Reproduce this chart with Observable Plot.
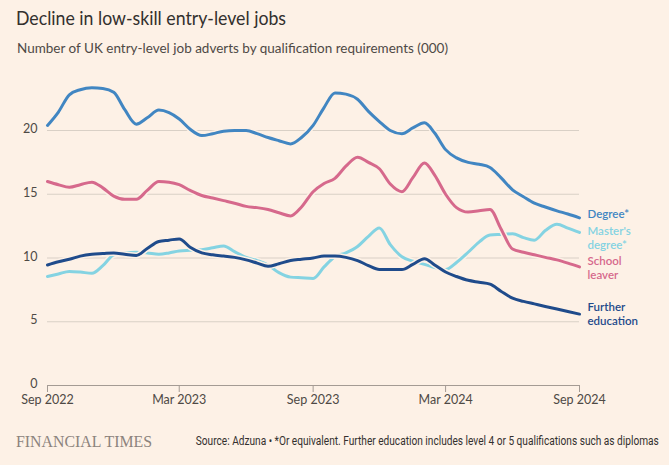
<!DOCTYPE html>
<html>
<head>
<meta charset="utf-8">
<script src="https://cdn.jsdelivr.net/npm/d3@7"></script>
<script src="https://cdn.jsdelivr.net/npm/@observablehq/plot@0.6"></script>
<style>
  html, body { margin: 0; padding: 0; background: #fdf1e6; }
  body { width: 669px; height: 465px; position: relative; overflow: hidden; font-family: Lato, "Noto Sans", sans-serif; }
  .title { position: absolute; left: 16px; top: 9px; font-size: 18.5px; color: #33302e; white-space: nowrap; line-height: 1; transform-origin: left center; }
  .subtitle { position: absolute; left: 17px; top: 42px; font-size: 13.5px; color: #4e4945; white-space: nowrap; line-height: 1; transform-origin: left center; }
  #chart { position: absolute; left: 0; top: 60px; }
  .ft { position: absolute; left: 16px; top: 433px; font-family: "Liberation Serif", "DejaVu Serif", serif; font-size: 17px; color: #8c837d; white-space: nowrap; line-height: 1; transform-origin: left center; }
  .source { position: absolute; right: 10px; top: 435px; font-family: Roboto, sans-serif; font-size: 12px; color: #33302e; white-space: nowrap; line-height: 1; transform-origin: right center; }
</style>
</head>
<body>
<div class="title" id="title">Decline in low-skill entry-level jobs</div>
<div class="subtitle" id="subtitle">Number of UK entry-level job adverts by qualification requirements (000)</div>
<div id="chart"></div>
<div class="ft" id="ft">FINANCIAL TIMES</div>
<div class="source" id="source">Source: Adzuna • *Or equivalent. Further education includes level 4 or 5 qualifications such as diplomas</div>
<script>
// ---- Data (thousands of job adverts) ----
const dates = [
  "2022-09-01","2022-09-16","2022-10-01","2022-10-16","2022-11-01","2022-11-16","2022-12-01","2022-12-16",
  "2023-01-01","2023-01-16","2023-02-01","2023-02-15","2023-03-01","2023-03-16","2023-04-01","2023-04-16",
  "2023-05-01","2023-05-16","2023-06-01","2023-06-16","2023-07-01","2023-07-16","2023-08-01","2023-08-16",
  "2023-09-01","2023-09-16","2023-10-01","2023-10-16","2023-11-01","2023-11-16","2023-12-01","2023-12-16",
  "2024-01-01","2024-01-16","2024-02-01","2024-02-15","2024-03-01","2024-03-16","2024-04-01","2024-04-16",
  "2024-05-01","2024-05-16","2024-06-01","2024-06-16","2024-07-01","2024-07-16","2024-08-01","2024-08-16",
  "2024-09-01"
];

const degree = [
  20.4, 21.45, 22.8, 23.2, 23.35, 23.3, 23.0, 21.65,
  20.5, 21.0, 21.6, 21.4, 20.9, 20.1, 19.6, 19.75,
  19.95, 20.0, 20.0, 19.75, 19.45, 19.2, 18.95, 19.45,
  20.4, 21.8, 22.95, 22.85, 22.45, 21.5, 20.7, 20.0,
  19.75, 20.2, 20.6, 19.8, 18.5, 17.85, 17.5, 17.35,
  17.1, 16.3, 15.35, 14.8, 14.3, 14.0, 13.7, 13.45,
  13.15
];

const mastersDegree = [
  8.55, 8.75, 8.95, 8.9, 8.8, 9.4, 10.25, 10.4,
  10.45, 10.4, 10.3, 10.4, 10.55, 10.6, 10.65, 10.8,
  10.95, 10.5, 10.05, 9.8, 9.45, 8.85, 8.5, 8.45,
  8.4, 9.3, 10.1, 10.4, 10.9, 11.7, 12.35, 11.05,
  10.1, 9.75, 9.5, 9.25, 9.1, 9.65, 10.45, 11.25,
  11.8, 11.85, 11.9, 11.6, 11.4, 12.15, 12.65, 12.35,
  12.0
];

const schoolLeaver = [
  16.0, 15.75, 15.55, 15.75, 15.95, 15.5, 14.85, 14.6,
  14.6, 15.3, 16.0, 15.95, 15.75, 15.3, 14.9, 14.7,
  14.5, 14.3, 14.05, 13.95, 13.8, 13.55, 13.3, 14.0,
  15.2, 15.85, 16.25, 17.2, 17.9, 17.5, 17.0, 15.8,
  15.2, 16.3, 17.45, 16.5, 15.0, 13.95, 13.6, 13.7,
  13.8, 12.3, 10.7, 10.45, 10.25, 10.05, 9.85, 9.6,
  9.3
];

const furtherEducation = [
  9.45, 9.7, 9.9, 10.15, 10.3, 10.35, 10.4, 10.3,
  10.2, 10.75, 11.3, 11.4, 11.5, 10.85, 10.4, 10.25,
  10.15, 10.05, 9.85, 9.6, 9.35, 9.55, 9.8, 9.9,
  10.0, 10.15, 10.15, 10.05, 9.8, 9.4, 9.1, 9.1,
  9.1, 9.5, 9.95, 9.45, 8.9, 8.55, 8.25, 8.1,
  7.95, 7.4, 6.85, 6.6, 6.4, 6.2, 6.0, 5.8,
  5.6
];

const seriesNames = ["Master's degree*", "Further education", "School leaver", "Degree*"];
const seriesLabels = [["Master's", "degree*"], ["Further", "education"], ["School", "leaver"], ["Degree*"]];
const seriesValues = [mastersDegree, furtherEducation, schoolLeaver, degree];

const xTicks = ["2022-09-01", "2023-03-01", "2023-09-01", "2024-03-01", "2024-09-01"];
const yTicks = [0, 5, 10, 15, 20];

// ---- Styles ----
const colors = {
  "Degree*": "#4186c2",
  "Master's degree*": "#84d3e2",
  "School leaver": "#d6698c",
  "Further education": "#1f4b8b"
};
const labelDy = { "Degree*": -4, "Master's degree*": -1, "School leaver": -6, "Further education": -7 };
const labelLineStep = 14;
const bg = "#fdf1e6";

// ---- Build table ----
const parse = d3.utcParse("%Y-%m-%d");
const rows = [];
seriesNames.forEach((name, i) => {
  seriesValues[i].forEach((v, j) => rows.push({ series: name, date: parse(dates[j]), value: v }));
});

const marks = [
  Plot.ruleY(yTicks.filter(t => t > 0), { stroke: "#d9d0c6", strokeWidth: 1.2 }),
  Plot.ruleY([0], { stroke: "#a49b94", strokeWidth: 1.2 })
];
for (const name of seriesNames) {
  const data = rows.filter(r => r.series === name);
  marks.push(Plot.line(data, { x: "date", y: "value", stroke: bg, strokeWidth: 6, curve: "monotone-x" }));
  marks.push(Plot.line(data, { x: "date", y: "value", stroke: colors[name], strokeWidth: 3, curve: "monotone-x" }));
}
seriesNames.forEach((name, i) => {
  const last = { date: parse(dates[dates.length - 1]), value: seriesValues[i][seriesValues[i].length - 1] };
  seriesLabels[i].forEach((line, li) => {
    marks.push(Plot.text([{ ...last, label: line }], {
      x: "date", y: "value", text: "label", fill: colors[name],
      textAnchor: "start", lineAnchor: "middle", dx: 8, dy: labelDy[name] + li * labelLineStep,
      fontSize: 11.5, fontWeight: 600
    }));
  });
});

const chart = Plot.plot({
  width: 669,
  height: 355,
  marginLeft: 47,
  marginRight: 90,
  marginTop: 19,
  marginBottom: 30,
  style: { background: "transparent", fontFamily: "Lato, 'Noto Sans', sans-serif", fontSize: "12px", color: "#66605c" },
  x: {
    type: "utc",
    domain: [parse("2022-09-01"), parse("2024-09-01")],
    label: null
  },
  y: {
    domain: [0, 24],
    label: null
  },
  marks: [
    ...marks,
    Plot.axisX({ ticks: xTicks.map(parse), tickFormat: d3.utcFormat("%b %Y"), tickSize: 7, tickPadding: 3, stroke: "#a49b94", fill: "#4e4945", label: null, fontSize: 12.5 }),
    Plot.axisY({ ticks: yTicks, tickSize: 0, tickPadding: 10, dy: -1.5, fill: "#4e4945", label: null, fontSize: 12.5 })
  ]
});
document.getElementById("chart").appendChild(chart);

// fit text widths to the reference layout
function fit(id, target) {
  const el = document.getElementById(id);
  const w = el.getBoundingClientRect().width;
  el.style.transform = `scaleX(${target / w})`;
}
fit("title", 270);
fit("subtitle", 431);
fit("ft", 136);
fit("source", 463);
</script>
</body>
</html>
